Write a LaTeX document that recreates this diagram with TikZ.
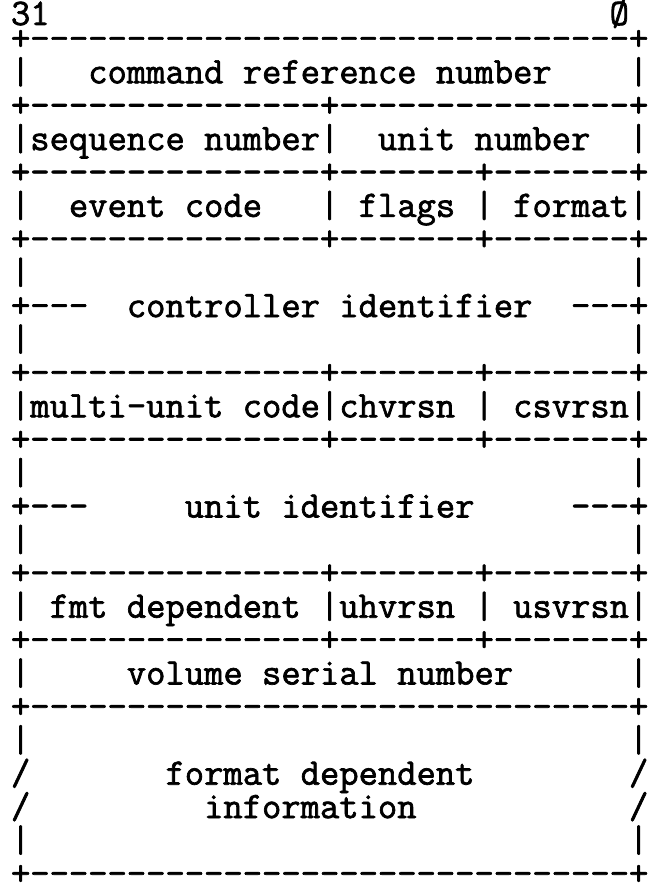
\documentclass[tikz,border=0pt]{standalone}
\usepackage{fontspec}
\setmonofont[FakeBold=1.8]{Latin Modern Mono}
\newcommand{\ascfont}{\ttfamily\fontsize{37.5pt}{38pt}\selectfont}
\newlength{\cw}
\tikzset{
  asc/.style={anchor=base west, inner sep=0pt, outer sep=0pt,
    text height=21pt, text depth=3pt, font=\ascfont, text=black},
  hdr/.style={asc, text height=20pt, text depth=0pt}
}
% \asc{name}{row}{col}{text}
\newcommand{\asc}[4]{\node[asc] (#1) at ({11pt+#3\cw},{16.5+33.4*#2}) {#4};}
\newcommand{\fullrule}[2]{\asc{#1}{#2}{0}{+-------------------------------+}}
\newcommand{\threerule}[2]{\asc{#1}{#2}{0}{+---------------+-------+-------+}}
\newcommand{\sides}[2]{\asc{#1l}{#2}{0}{|}\asc{#1r}{#2}{32}{|}}
\begin{document}
\settowidth{\cw}{\ascfont M}
\begin{tikzpicture}[x=1pt,y=-1pt]
\useasboundingbox (0,0) rectangle (649,888);
% header
\node[hdr] (msb) at (11,25) {31};
\node[hdr] (lsb) at ({11pt+31\cw},25) {Ø};
\fullrule{r1}{1}
\asc{r2l}{2}{0}{|}\asc{r2t}{2}{4}{command reference number}\asc{r2r}{2}{32}{|}
\asc{r3}{3}{0}{+---------------+---------------+}
\asc{r4a}{4}{0}{|sequence number|}\asc{r4t}{4}{19}{unit number}\asc{r4r}{4}{32}{|}
\threerule{r5}{5}
\asc{r6l}{6}{0}{|}\asc{r6a}{6}{3}{event code}\asc{r6b}{6}{16}{|}\asc{r6c}{6}{18}{flags}\asc{r6d}{6}{24}{|}\asc{r6e}{6}{26}{format|}
\threerule{r7}{7}
\sides{r8}{8}
\asc{r9l}{9}{0}{+---}\asc{r9t}{9}{6}{controller identifier}\asc{r9r}{9}{29}{---+}
\sides{r10}{10}
\threerule{r11}{11}
\asc{r12a}{12}{0}{|multi-unit code|chvrsn}\asc{r12b}{12}{24}{|}\asc{r12c}{12}{26}{csvrsn|}
\threerule{r13}{13}
\sides{r14}{14}
\asc{r15l}{15}{0}{+---}\asc{r15t}{15}{9}{unit identifier}\asc{r15r}{15}{29}{---+}
\sides{r16}{16}
\threerule{r17}{17}
\asc{r18l}{18}{0}{|}\asc{r18a}{18}{2}{fmt dependent}\asc{r18b}{18}{16}{|uhvrsn}\asc{r18c}{18}{24}{|}\asc{r18d}{18}{26}{usvrsn|}
\threerule{r19}{19}
\asc{r20l}{20}{0}{|}\asc{r20t}{20}{6}{volume serial number}\asc{r20r}{20}{32}{|}
\fullrule{r21}{21}
\sides{r22}{22}
\asc{r23l}{23}{0}{/}\asc{r23t}{23}{8}{format dependent}\asc{r23r}{23}{32}{/}
\asc{r24l}{24}{0}{/}\asc{r24t}{24}{10}{information}\asc{r24r}{24}{32}{/}
\sides{r25}{25}
\fullrule{r26}{26}
\end{tikzpicture}
\end{document}
